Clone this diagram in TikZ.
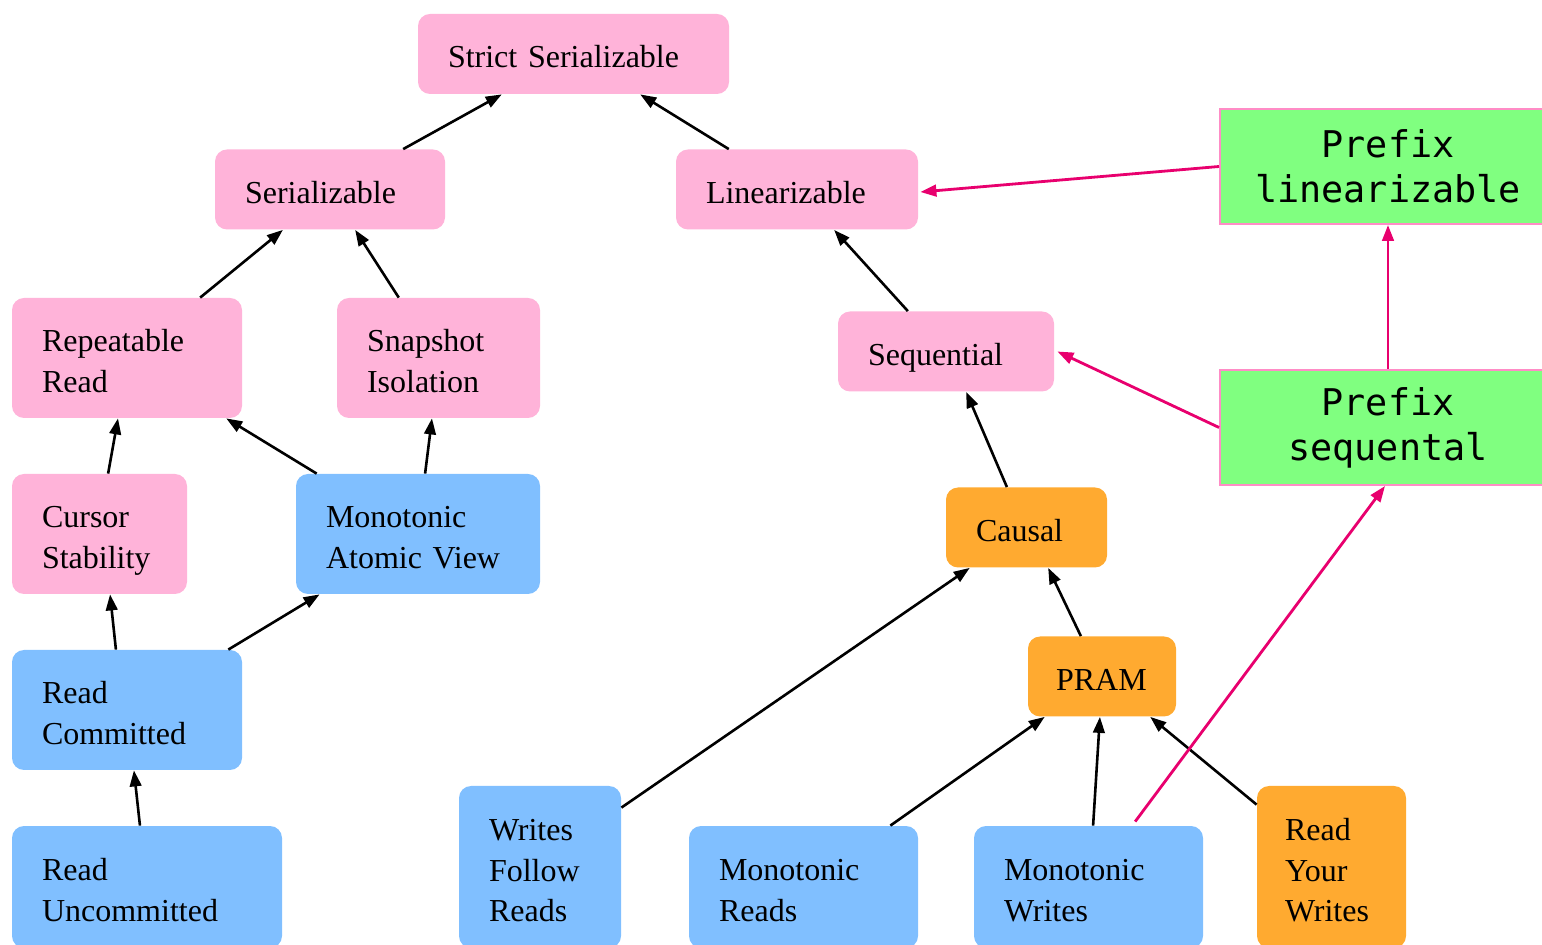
\documentclass[tikz,border=0pt]{standalone}
\usepackage{fontspec}
\setmainfont{Liberation Serif}
\newfontfamily\codefont{DejaVu Sans Mono}
\usetikzlibrary{calc,arrows.meta}

\definecolor{isopink}{HTML}{FFB3D9}
\definecolor{isoblue}{HTML}{80BFFF}
\definecolor{isoorange}{HTML}{FFAA30}
\definecolor{prefixgreen}{HTML}{80FF80}
\definecolor{prefixborder}{HTML}{FF8CC6}
\definecolor{prefixarrow}{HTML}{E8006E}

\begin{document}
\begin{tikzpicture}[x=0.5pt,y=-0.5pt,
  box/.style={rounded corners=6pt, inner xsep=15pt, inner ysep=0pt,
    align=left, font=\fontsize{16}{20.3}\selectfont,
    execute at begin node={\rule{0pt}{18pt}},
    execute at end node={\rule[-4pt]{0pt}{4pt}}},
  pinkbox/.style={box, fill=isopink},
  bluebox/.style={box, fill=isoblue},
  orangebox/.style={box, fill=isoorange},
  prefixbox/.style={fill=prefixgreen, draw=prefixborder, line width=1pt,
    minimum width=168pt, minimum height=57.5pt, inner sep=0pt, align=center,
    font=\codefont\fontsize{18.4}{22.5}\selectfont},
  edge/.style={line width=1.3pt, -{Triangle[length=8pt,width=5.8pt]}},
  prefixedge/.style={edge, line width=1.4pt, draw=prefixarrow, fill=prefixarrow}
]
\useasboundingbox (0,0) rectangle (1542,945);
\clip (0,0) rectangle (1542,945);

% consistency models, top to bottom
\node[pinkbox, minimum height=40pt, text width=125.5pt] (strict) at (573.5,54) {Strict Serializable};
\node[pinkbox, minimum height=40pt, text width=85pt] (ser) at (330,189.5) {Serializable};
\node[pinkbox, minimum height=40pt, text width=91pt] (lin) at (797,189.5) {Linearizable};
\node[pinkbox, minimum height=60pt, text width=85pt] (rr) at (127,358) {Repeatable\\Read};
\node[pinkbox, minimum height=60pt, text width=71.5pt] (si) at (438.5,358) {Snapshot\\Isolation};
\node[pinkbox, minimum height=40pt, text width=78pt] (seq) at (946,351.5) {Sequential};
\node[pinkbox, minimum height=60pt, text width=57.5pt] (cs) at (99.5,534) {Cursor\\Stability};
\node[bluebox, minimum height=60pt, text width=92pt] (mav) at (418,534) {Monotonic\\Atomic View};
\node[orangebox, minimum height=40pt, text width=50.5pt] (causal) at (1026.5,527.5) {Causal};
\node[bluebox, minimum height=60pt, text width=85pt] (rc) at (127,710) {Read\\Committed};
\node[orangebox, minimum height=40pt, inner xsep=14pt, text width=46pt] (pram) at (1102,676.5) {PRAM};
\node[bluebox, minimum height=61pt, text width=105pt] (ru) at (147,887) {Read\\Uncommitted};
\node[bluebox, minimum height=81pt, text width=51pt] (wfr) at (540,867) {Writes\\Follow\\Reads};
\node[bluebox, minimum height=61pt, text width=84.5pt] (mr) at (803.5,887) {Monotonic\\Reads};
\node[bluebox, minimum height=61pt, text width=84.5pt] (mw) at (1088.5,887) {Monotonic\\Writes};
\node[orangebox, minimum height=81pt, inner xsep=14pt, text width=46.5pt] (ryw) at (1331.5,867) {Read\\Your\\Writes};

% prefix models
\node[prefixbox] (plin) at (1388,166.5) {Prefix\\linearizable};
\node[prefixbox] (pseq) at (1388,427.5) {Prefix\\sequental};

% implications
\draw[edge] ($(ser.north west)!0.817!(ser.north east)$) -- ($(strict.south west)!0.27!(strict.south east)$);
\draw[edge] ($(lin.north west)!0.219!(lin.north east)$) -- ($(strict.south west)!0.714!(strict.south east)$);
\draw[edge] ($(rr.north west)!0.817!(rr.north east)$) -- ($(ser.south west)!0.296!(ser.south east)$);
\draw[edge] ($(si.north west)!0.305!(si.north east)$) -- ($(ser.south west)!0.609!(ser.south east)$);
\draw[edge] ($(seq.north west)!0.324!(seq.north east)$) -- ($(lin.south west)!0.653!(lin.south east)$);
\draw[edge] ($(cs.north west)!0.549!(cs.north east)$) -- ($(rr.south west)!0.461!(rr.south east)$);
\draw[edge] ($(mav.north west)!0.086!(mav.north east)$) -- ($(rr.south west)!0.93!(rr.south east)$);
\draw[edge] ($(mav.north west)!0.529!(mav.north east)$) -- ($(si.south west)!0.468!(si.south east)$);
\draw[edge] ($(rc.north west)!0.452!(rc.north east)$) -- ($(cs.south west)!0.56!(cs.south east)$);
\draw[edge] ($(rc.north west)!0.939!(rc.north east)$) -- ($(mav.south west)!0.098!(mav.south east)$);
\draw[edge] ($(ru.north west)!0.474!(ru.north east)$) -- ($(rc.south west)!0.53!(rc.south east)$);
\draw[edge] ($(causal.north west)!0.379!(causal.north east)$) -- ($(seq.south west)!0.593!(seq.south east)$);
\draw[edge] ($(wfr.north east)+(0,22)$) -- ($(causal.south west)!0.149!(causal.south east)$);
\draw[edge] ($(pram.north west)!0.358!(pram.north east)$) -- ($(causal.south west)!0.634!(causal.south east)$);
\draw[edge] ($(mr.north west)!0.878!(mr.north east)$) -- ($(pram.south west)!0.115!(pram.south east)$);
\draw[edge] ($(mw.north west)!0.52!(mw.north east)$) -- ($(pram.south west)!0.486!(pram.south east)$);
\draw[edge] ($(ryw.north west)+(0,19)$) -- ($(pram.south west)!0.824!(pram.south east)$);

% prefix relations
\draw[prefixedge] (plin.west) -- ($(lin.east)+(2,2.5)$);
\draw[prefixedge] (pseq.west) -- ($(seq.east)+(3,0)$);
\draw[prefixedge] (pseq.north) -- (plin.south);
\draw[prefixedge] ($(mw.north west)!0.703!(mw.north east)+(0,-4)$) -- ($(pseq.south)+(-3,0)$);
\end{tikzpicture}
\end{document}
